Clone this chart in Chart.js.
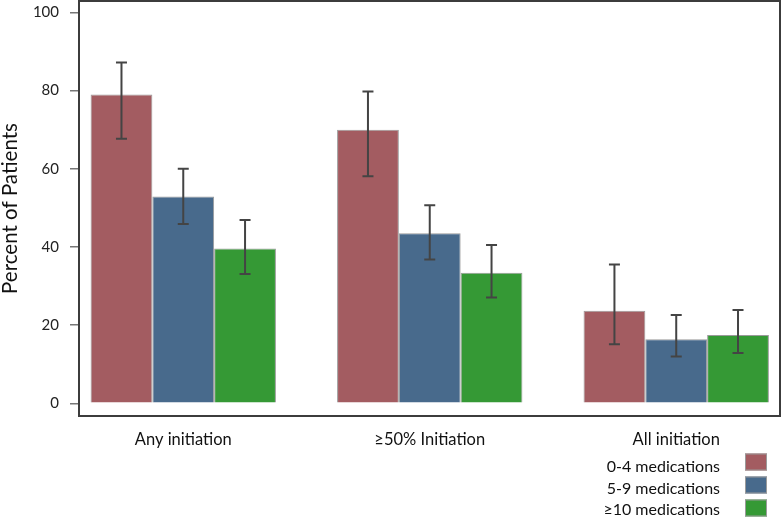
<!DOCTYPE html>
<html>
<head>
<meta charset="utf-8">
<script src="https://cdn.jsdelivr.net/npm/chart.js@4"></script>
<style>
html,body{margin:0;padding:0;background:#fff;}
#c{display:block;}
</style>
</head>
<body>
<canvas id="c" width="782" height="517"></canvas>
<script>
const categories = ["Any initiation", "\u226550% Initiation", "All initiation"];
const seriesNames = ["0-4 medications", "5-9 medications", "\u226510 medications"];
const meds04 = [79, 70, 23.7];
const meds59 = [52.9, 43.5, 16.4];
const meds10 = [39.6, 33.4, 17.5];
const meds04Low = [67.7, 58.1, 15.1];
const meds04High = [87.2, 79.8, 35.5];
const meds59Low = [45.9, 36.8, 12.0];
const meds59High = [60, 50.7, 22.6];
const meds10Low = [33.1, 27.1, 12.9];
const meds10High = [46.9, 40.5, 23.9];
const yTicks = [0, 20, 40, 60, 80, 100];

const colors = ["#A35C61", "#486A8C", "#359935"];
const seriesValues = [meds04, meds59, meds10];
const seriesLow = [meds04Low, meds59Low, meds10Low];
const seriesHigh = [meds04High, meds59High, meds10High];
const FONT = "Lato, 'Open Sans', sans-serif";

const datasets = seriesValues.map((vals, i) => ({
  label: seriesNames[i],
  data: vals.map((v, j) => ({x: j, y: v})),
  backgroundColor: colors[i],
  borderColor: "#9a9a9a",
  borderWidth: 1,
  categoryPercentage: 0.752,
  barPercentage: 1.0
}));

const frame = {
  id: 'frame',
  afterDraw(chart) {
    const {ctx, chartArea: a} = chart;
    ctx.save();
    ctx.strokeStyle = "#3c3c3c";
    ctx.lineWidth = 2;
    ctx.strokeRect(a.left, a.top, a.right - a.left, a.bottom - a.top);
    ctx.restore();
  }
};

const errorBars = {
  id: 'errorBars',
  afterDatasetsDraw(chart) {
    const ctx = chart.ctx;
    const ys = chart.scales.y;
    ctx.save();
    ctx.strokeStyle = "#444";
    ctx.lineWidth = 2;
    chart.data.datasets.forEach((ds, i) => {
      const meta = chart.getDatasetMeta(i);
      meta.data.forEach((el, j) => {
        const x = el.x;
        const yh = ys.getPixelForValue(seriesHigh[i][j]);
        const yl = ys.getPixelForValue(seriesLow[i][j]);
        ctx.beginPath();
        ctx.moveTo(x, yh); ctx.lineTo(x, yl);
        ctx.moveTo(x - 5.5, yh); ctx.lineTo(x + 5.5, yh);
        ctx.moveTo(x - 5.5, yl); ctx.lineTo(x + 5.5, yl);
        ctx.stroke();
      });
    });
    ctx.restore();
  }
};

const sideLegend = {
  id: 'sideLegend',
  afterDraw(chart) {
    const ctx = chart.ctx;
    ctx.save();
    ctx.font = "16px " + FONT;
    ctx.textAlign = "right";
    ctx.textBaseline = "middle";
    chart.data.datasets.forEach((ds, i) => {
      const ty = 467 + i * 21.5;
      ctx.fillStyle = "#111";
      ctx.fillText(ds.label, 720, ty);
      const sy = 453.5 + i * 23;
      ctx.fillStyle = ds.backgroundColor;
      ctx.fillRect(745, sy, 22, 17);
      ctx.strokeStyle = "#9a9a9a";
      ctx.lineWidth = 1;
      ctx.strokeRect(745.5, sy + 0.5, 21, 16);
    });
    ctx.restore();
  }
};

new Chart(document.getElementById('c'), {
  type: 'bar',
  data: { datasets },
  plugins: [frame, errorBars, sideLegend],
  options: {
    responsive: false,
    animation: false,
    layout: { padding: { top: 1, right: 2, left: 0, bottom: 0 } },
    plugins: { legend: { display: false }, tooltip: { enabled: false } },
    scales: {
      x: {
        type: 'linear',
        offset: false,
        min: -0.423,
        max: 2.421,
        afterBuildTicks(scale) { scale.ticks = categories.map((c, i) => ({value: i})); },
        afterFit(scale) { scale.height = 101; scale.paddingLeft = 0; scale.paddingRight = 0; },
        grid: { display: false, drawTicks: false, offset: false },
        border: { display: false },
        ticks: {
          padding: 14,
          color: "#111",
          font: { family: FONT, size: 16.5 },
          maxRotation: 0,
          autoSkip: false,
          callback: (v) => categories[v] ?? ''
        }
      },
      y: {
        min: -3.25,
        max: 102.94,
        afterBuildTicks(scale) { scale.ticks = yTicks.map(v => ({value: v})); },
        afterFit(scale) { scale.width = 79; scale.paddingTop = 0; scale.paddingBottom = 0; },
        grid: { drawOnChartArea: false, drawTicks: true, tickLength: 9, color: "#777", lineWidth: 1.5 },
        border: { display: false },
        ticks: {
          padding: 11,
          color: "#222",
          font: { family: FONT, size: 15 }
        },
        title: {
          display: true,
          text: "Percent of Patients",
          color: "#111",
          font: { family: FONT, size: 20.5, lineHeight: 1 },
          padding: { top: 0, bottom: 0 }
        }
      }
    }
  }
});
</script>
</body>
</html>
